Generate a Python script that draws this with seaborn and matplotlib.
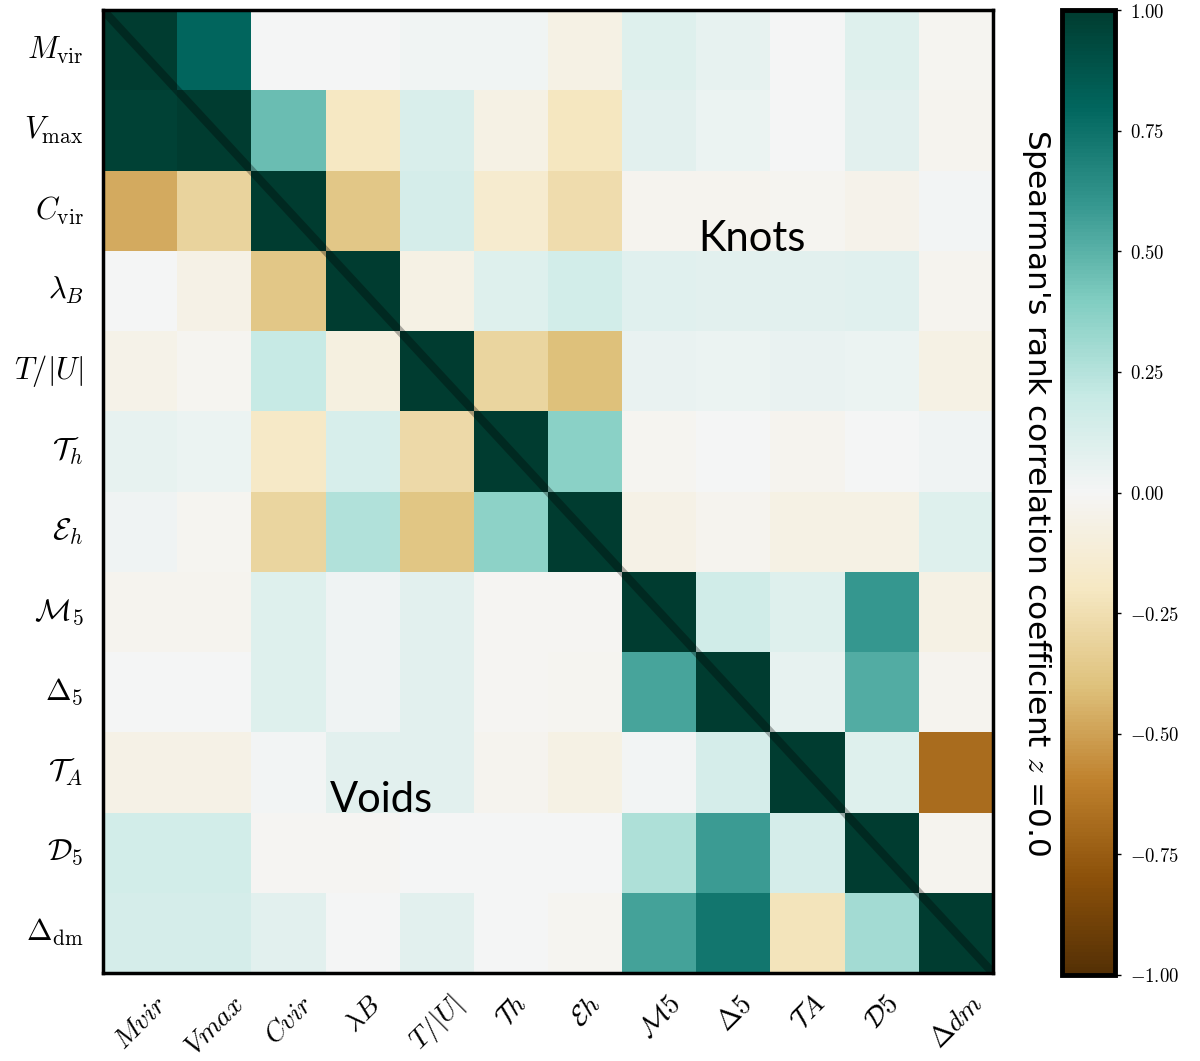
import numpy as np
import pandas as pd
import matplotlib
matplotlib.use("Agg")
import matplotlib.pyplot as plt
import seaborn as sns

plt.rcParams["mathtext.fontset"] = "cm"

# property labels (rows top -> bottom, columns left -> right)
ylabels = [r"$M_{\rm vir}$", r"$V_{\rm max}$", r"$C_{\rm vir}$", r"$\lambda_B$",
           r"$T/|U|$", r"$\mathcal{T}_h$", r"$\mathcal{E}_h$", r"$\mathcal{M}_5$",
           r"$\Delta_5$", r"$\mathcal{T}_A$", r"$\mathcal{D}_5$", r"$\Delta_{\rm dm}$"]
xlabels = [r"$Mvir$", r"$Vmax$", r"$Cvir$", r"$\lambda B$", r"$T/|U|$",
           r"$\mathcal{T}h$", r"$\mathcal{E}h$", r"$\mathcal{M}5$", r"$\Delta 5$",
           r"$\mathcal{T}A$", r"$\mathcal{D}5$", r"$\Delta dm$"]

# Knots: upper triangle, row i -> columns i+1 ... 11
knots = [
    [0.80, 0.00, 0.00, 0.02, 0.02, -0.07, 0.10, 0.06, 0.00, 0.10, -0.02],
    [0.46, -0.20, 0.12, -0.07, -0.21, 0.08, 0.04, 0.00, 0.08, -0.03],
    [-0.37, 0.14, -0.15, -0.26, -0.03, -0.03, -0.02, -0.04, 0.01],
    [-0.07, 0.10, 0.15, 0.09, 0.08, 0.08, 0.09, -0.03],
    [-0.30, -0.40, 0.05, 0.04, 0.05, 0.04, -0.07],
    [0.37, -0.02, 0.00, -0.03, 0.00, 0.03],
    [-0.06, -0.03, -0.07, -0.07, 0.10],
    [0.16, 0.10, 0.60, -0.07],
    [0.06, 0.52, -0.03],
    [0.10, -0.68],
    [-0.03],
]

# Voids: lower triangle, row i -> columns 0 ... i-1
voids = [
    [0.97],
    [-0.47, -0.31],
    [0.00, -0.06, -0.37],
    [-0.05, -0.02, 0.20, -0.08],
    [0.06, 0.04, -0.18, 0.13, -0.28],
    [0.03, -0.02, -0.30, 0.26, -0.38, 0.36],
    [-0.03, -0.03, 0.10, 0.03, 0.08, -0.01, -0.01],
    [0.00, 0.00, 0.10, 0.03, 0.08, -0.01, -0.02, 0.55],
    [-0.06, -0.06, 0.01, 0.08, 0.08, -0.03, -0.07, 0.01, 0.14],
    [0.15, 0.15, -0.01, -0.01, 0.00, 0.00, 0.00, 0.27, 0.58, 0.14],
    [0.14, 0.14, 0.08, 0.00, 0.08, 0.00, -0.02, 0.56, 0.73, -0.22, 0.30],
]

n = len(ylabels)
mat = np.eye(n)
for i, row in enumerate(knots):
    mat[i, i + 1:] = row
for i, row in enumerate(voids):
    mat[i + 1, :i + 1] = row
df = pd.DataFrame(mat, index=ylabels, columns=xlabels)

fig = plt.figure(figsize=(12, 10.61), dpi=100)
ax = fig.add_axes([103 / 1200, 88 / 1061, 890 / 1200, 963 / 1061])
cax = fig.add_axes([1062 / 1200, 86 / 1061, 53 / 1200, 965 / 1061])

sns.heatmap(df, cmap="BrBG", vmin=-1, vmax=1, ax=ax, cbar_ax=cax,
            square=False, linewidths=0)

# diagonal
ax.plot([0, n], [0, n], color="k", alpha=0.3, lw=6, solid_capstyle="butt")

for s in ax.spines.values():
    s.set_visible(True)
    s.set_linewidth(2.5)
    s.set_color("black")

ax.tick_params(axis="y", length=0, pad=14)
ax.tick_params(axis="x", length=0, pad=12)
ax.set_yticklabels(ylabels, rotation=0, fontsize=22)
ax.set_xticklabels(xlabels, rotation=45, fontsize=20, ha="center")

ax.text(8.75, 2.85, "Knots", fontsize=30, family=["Lato", "DejaVu Sans"],
        ha="center", va="center")
ax.text(3.75, 9.85, "Voids", fontsize=30, family=["Lato", "DejaVu Sans"],
        ha="center", va="center")

# colorbar
cbar = ax.collections[0].colorbar
cbar.outline.set_linewidth(3.5)
cbar.outline.set_edgecolor("black")
ticks = [-1.0, -0.75, -0.5, -0.25, 0.0, 0.25, 0.5, 0.75, 1.0]
cbar.set_ticks(ticks)
cbar.set_ticklabels([f"${t:.2f}$" for t in ticks])
cax.tick_params(labelsize=13.5, length=4, width=1, pad=7)
cax.yaxis.set_label_position("left")
cbar.set_label(r"Spearman's rank correlation coefficient $z$ =0.0", rotation=270,
               fontsize=22.5, labelpad=30,
               family=["Liberation Sans Narrow", "DejaVu Sans"])

fig.savefig("out.png", dpi=100)
